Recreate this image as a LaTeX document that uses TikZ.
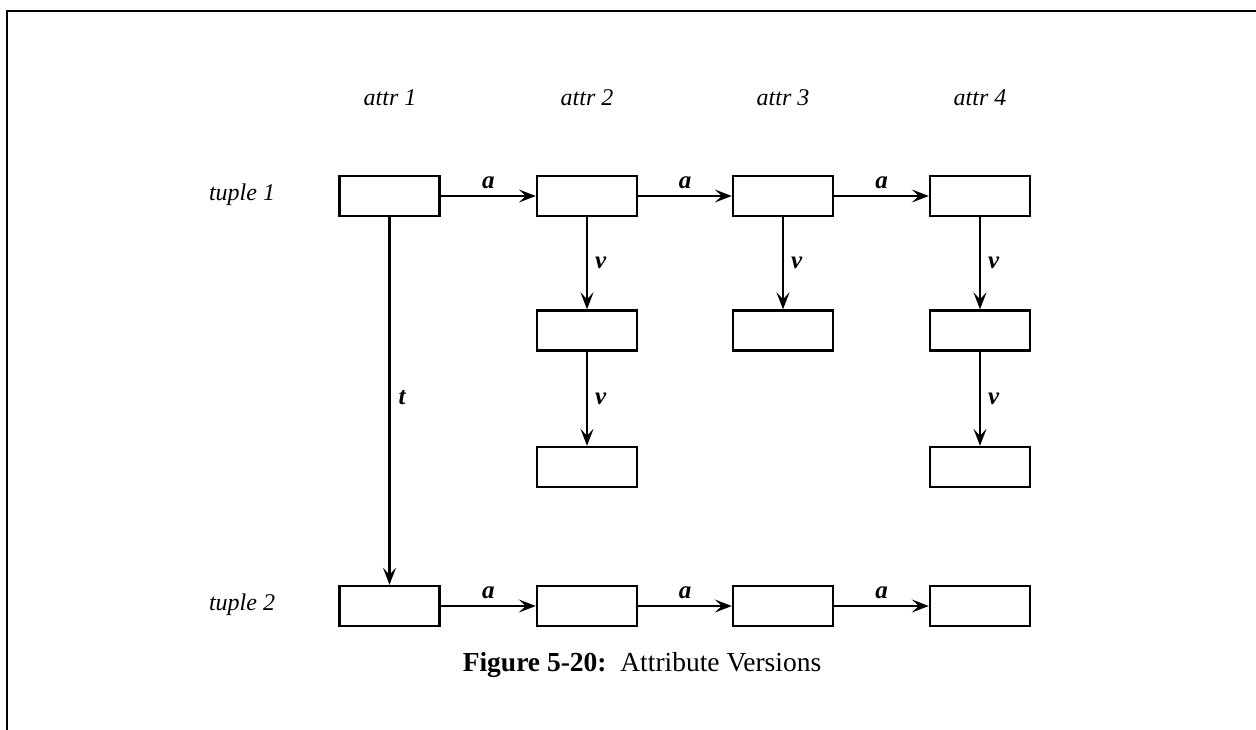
\documentclass[tikz,border=0pt]{standalone}
\usepackage{fontspec}
\setmainfont{Liberation Serif}
\usetikzlibrary{arrows.meta}
\begin{document}
\begin{tikzpicture}[x=1pt,y=-1pt,
  cell/.style={draw,line width=2.4pt,minimum width=100pt,minimum height=40pt,inner sep=0pt},
  lbl/.style={font=\fontsize{24}{28}\selectfont\itshape},
  elbl/.style={font=\fontsize{25}{28}\selectfont\bfseries\itshape,inner sep=0pt},
  conn/.style={line width=2.2pt,-{Stealth[length=17pt,width=13pt,inset=7pt]}},
  frame/.style={line width=2.6pt}]
\useasboundingbox (0,0) rectangle (1256,730);
% frame
\coordinate (ftl) at (7,11);
\coordinate (ftr) at (1256,11);
\coordinate (fbl) at (7,730);
\draw[frame] (ftr) -- (ftl) -- (fbl);
% headers
\node[lbl] (h1) at (390,98) {attr 1};
\node[lbl] (h2) at (587,98) {attr 2};
\node[lbl] (h3) at (783,98) {attr 3};
\node[lbl] (h4) at (980,98) {attr 4};
\node[lbl] (r1) at (242,195) {tuple 1};
\node[lbl] (r2) at (242,605) {tuple 2};
% boxes
\node[cell] (a1) at (389.5,196) {};
\node[cell] (a2) at (587,196) {};
\node[cell] (a3) at (783,196) {};
\node[cell] (a4) at (980,196) {};
\node[cell] (b2) at (587,330.5) {};
\node[cell] (b3) at (783,330.5) {};
\node[cell] (b4) at (980,330.5) {};
\node[cell] (c2) at (587,467) {};
\node[cell] (c4) at (980,467) {};
\node[cell] (d1) at (389.5,606) {};
\node[cell] (d2) at (587,606) {};
\node[cell] (d3) at (783,606) {};
\node[cell] (d4) at (980,606) {};
% horizontal arrows
\draw[conn] (a1) -- node[elbl,above=6pt] {a} (a2);
\draw[conn] (a2) -- node[elbl,above=6pt] {a} (a3);
\draw[conn] (a3) -- node[elbl,above=6pt] {a} (a4);
\draw[conn] (d1) -- node[elbl,above=6pt] {a} (d2);
\draw[conn] (d2) -- node[elbl,above=6pt] {a} (d3);
\draw[conn] (d3) -- node[elbl,above=6pt] {a} (d4);
% vertical arrows
\draw[conn] (a2) -- node[elbl,right=7pt] {v} (b2);
\draw[conn] (b2) -- node[elbl,right=7pt] {v} (c2);
\draw[conn] (a3) -- node[elbl,right=7pt] {v} (b3);
\draw[conn] (a4) -- node[elbl,right=7pt] {v} (b4);
\draw[conn] (b4) -- node[elbl,right=7pt] {v} (c4);
\draw[conn] (a1) -- node[elbl,right=8pt,pos=0.49] {t} (d1);
% caption
\node[font=\fontsize{27.5}{32}\selectfont] (cap) at (642,665) {\textbf{Figure 5-20:}\ \ Attribute Versions};
\end{tikzpicture}
\end{document}
